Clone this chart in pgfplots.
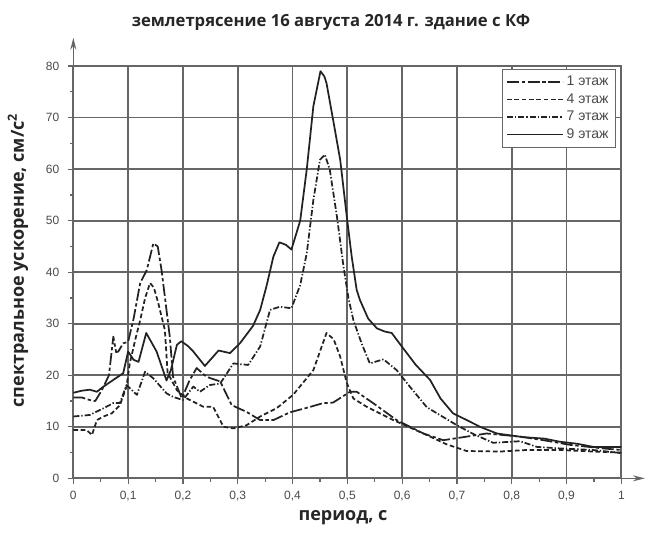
\documentclass[border=0pt]{standalone}
\usepackage{pgfplots}
\pgfplotsset{compat=1.18}
\usepackage{fontspec}
\setmainfont{Liberation Sans}
\newfontfamily\headfont{Open Sans}
\usetikzlibrary{arrows.meta}

\definecolor{curve}{HTML}{222222}
\definecolor{gridc}{HTML}{666666}
\definecolor{labelc}{HTML}{4A4A4A}

% spectral acceleration, floor 1
\pgfplotstableread{
x y
0 15.7
0.015 15.7
0.03 15.2
0.04 15.0
0.052 17.1
0.065 20
0.073 27.5
0.078 24.5
0.082 24.6
0.091 26.2
0.1 26.5
0.11 31
0.122 37.9
0.134 40.4
0.146 45.6
0.154 45
0.161 40.4
0.176 27.5
0.182 19.7
0.198 15.5
0.212 19
0.225 21.4
0.243 19.7
0.268 18.8
0.289 14.2
0.316 12.9
0.341 11.3
0.365 11.3
0.395 12.8
0.43 13.8
0.456 14.6
0.474 14.7
0.505 16.8
0.517 16.8
0.547 14.6
0.59 11.3
0.639 8.7
0.675 7.4
0.7 7.8
0.736 8.4
0.754 8.7
0.815 8.1
0.858 7.4
0.906 6.5
0.967 5.8
1.0 5.5
}\floorone

% floor 4
\pgfplotstableread{
x y
0 9.4
0.024 9.4
0.034 8.4
0.043 11.3
0.055 12
0.07 12.6
0.085 14.2
0.097 17.8
0.103 22.3
0.113 26.9
0.122 30.7
0.131 35
0.14 37.9
0.147 37
0.155 34
0.167 28.8
0.172 20.5
0.189 17.1
0.207 15.5
0.237 13.9
0.255 13.9
0.274 10
0.292 9.7
0.316 10.3
0.341 12
0.371 13.6
0.401 16.2
0.438 21
0.462 28.2
0.475 27
0.487 23.6
0.499 18.5
0.511 15.5
0.535 13.9
0.584 11.3
0.645 8.4
0.681 6.6
0.718 5.3
0.779 5.2
0.827 5.5
0.888 5.5
0.949 5.2
1.0 5.0
}\floorfour

% floor 7
\pgfplotstableread{
x y
0 12
0.03 12.3
0.055 13.6
0.073 14.6
0.085 14.6
0.097 18.1
0.116 16.2
0.131 20.7
0.146 19.4
0.17 16.5
0.182 15.8
0.2 15.2
0.219 17.8
0.231 16.8
0.249 18.1
0.268 18.4
0.292 22.3
0.319 22
0.341 25.6
0.359 32.7
0.377 33.3
0.398 33
0.414 37.5
0.426 43.7
0.438 54
0.45 61.8
0.459 62.8
0.468 59.9
0.481 50.8
0.493 41.1
0.502 35
0.511 30.7
0.526 26.2
0.541 22.3
0.566 23.1
0.59 21
0.614 17.8
0.645 13.8
0.7 10.3
0.73 8.6
0.766 6.9
0.815 7.2
0.846 6.1
0.888 5.8
0.948 5.5
1.0 4.9
}\floorseven

% floor 9
\pgfplotstableread{
x y
0 16.6
0.015 17.0
0.03 17.2
0.043 16.8
0.055 17.8
0.073 19.1
0.091 20.4
0.1 24.6
0.11 23.0
0.119 22.6
0.133 28.2
0.142 26.5
0.152 24.6
0.17 19.0
0.178 21
0.189 25.9
0.197 26.6
0.21 25.6
0.219 24.6
0.24 21.8
0.25 23
0.265 24.8
0.286 24.3
0.304 26.2
0.328 29.6
0.341 32.7
0.353 37.5
0.365 43
0.376 45.8
0.388 45.3
0.398 44.4
0.414 50
0.426 60
0.438 72.2
0.451 79
0.458 78
0.462 76.7
0.475 69
0.487 61.8
0.499 50.8
0.508 43
0.517 36.6
0.523 34.6
0.538 31
0.554 29.1
0.568 28.5
0.581 28.2
0.6 25.5
0.625 22
0.651 19.1
0.67 15.5
0.693 12.6
0.72 11.2
0.742 10
0.773 8.7
0.82 8
0.86 7.7
0.888 7.1
0.92 6.7
0.949 6.1
1.0 6.1
}\floornine

\begin{document}
\begin{tikzpicture}
\useasboundingbox (0,0) rectangle (490.5pt,407.25pt);
\begin{axis}[
  at={(55pt,48.5pt)}, anchor=south west,
  width=411pt, height=309.2pt, scale only axis,
  xmin=0, xmax=1, ymin=0, ymax=80,
  axis line style={color=gridc, line width=1.3pt},
  clip=false,
  xtick={0,0.1,...,1.0},
  ytick={0,10,20,30,40,50,60,70,80},
  xtick pos=left, ytick pos=left,
  minor x tick num=1, minor y tick num=1,
  xticklabels={0,{0,1},{0,2},{0,3},{0,4},{0,5},{0,6},{0,7},{0,8},{0,9},1},
  grid=major,
  major grid style={draw=gridc, line width=1.3pt, solid},
  tick align=outside,
  major tick length=4pt, minor tick length=2.5pt,
  tick style={color=gridc, line width=0.9pt},
  every tick label/.style={color=labelc},
  tick label style={font=\fontsize{9}{10}\selectfont},
  /pgf/number format/assume math mode=true,
  xticklabel style={yshift=-2pt},
  yticklabel style={xshift=-3pt},
  legend style={at={(0.99,0.993)}, anchor=north east, draw=gridc, line width=0.9pt,
    font=\fontsize{10.5}{14}\selectfont, text=labelc, inner xsep=3pt, inner ysep=3pt,
    row sep=0.4pt},
  legend cell align=left,
  legend image code/.code={\draw[#1] (0pt,0pt) -- (42pt,0pt);},
  every axis plot/.append style={color=curve, line width=1.3pt, line join=round},
]
% horizontal grid rules as plain two-point paths
\addplot[forget plot, color=gridc, line width=1.3pt] coordinates {(0,10) (1,10)};
\addplot[forget plot, color=gridc, line width=1.3pt] coordinates {(0,20) (1,20)};
\addplot[forget plot, color=gridc, line width=1.3pt] coordinates {(0,30) (1,30)};
\addplot[forget plot, color=gridc, line width=1.3pt] coordinates {(0,40) (1,40)};
\addplot[forget plot, color=gridc, line width=1.3pt] coordinates {(0,50) (1,50)};
\addplot[forget plot, color=gridc, line width=1.3pt] coordinates {(0,60) (1,60)};
\addplot[forget plot, color=gridc, line width=1.3pt] coordinates {(0,70) (1,70)};
\addplot[dash pattern=on 9pt off 2pt on 2.5pt off 2pt] table {\floorone};
\addlegendentry{1 этаж}
\addplot[dash pattern=on 3.5pt off 2pt] table {\floorfour};
\addlegendentry{4 этаж}
\addplot[dash pattern=on 4.5pt off 1.5pt on 1pt off 1.5pt] table {\floorseven};
\addlegendentry{7 этаж}
\addplot[solid] table {\floornine};
\addlegendentry{9 этаж}
% axis arrows continuing past the frame
\draw[color=gridc, line width=1.1pt, -{Stealth[length=9pt,width=4.5pt]}] (axis cs:0,80) -- (axis cs:0,85.5);
\draw[color=gridc, line width=1.1pt, -{Stealth[length=9pt,width=4.5pt]}] (axis cs:1,0) -- (axis cs:1.043,0);
\end{axis}
\node[font=\headfont\bfseries\fontsize{12.5}{14}\selectfont, color=black!85] at (248.25pt,390.75pt) {землетрясение 16 августа 2014 г. здание с КФ};
\node[font=\headfont\bfseries\fontsize{13.5}{15}\selectfont, color=black!85, rotate=90] at (13.5pt,212pt) {спектральное ускорение, см/с\textsuperscript{2}};
\node[font=\headfont\bfseries\fontsize{13.5}{15}\selectfont, color=black!85] at (257.25pt,18.75pt) {период, с};
\end{tikzpicture}
\end{document}
